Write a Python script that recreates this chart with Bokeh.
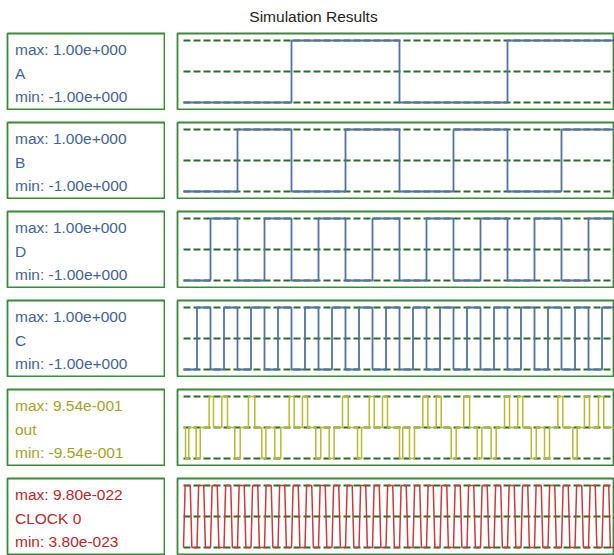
from bokeh.plotting import figure
from bokeh.layouts import column, row
from bokeh.models import Range1d, Label
from bokeh.embed import file_html
from bokeh.resources import INLINE

# ---------------- data ----------------
title_text = "Simulation Results"

signal_names = ["A", "B", "D", "C", "out", "CLOCK 0"]
signal_max = [1.00, 1.00, 1.00, 1.00, 0.954, 9.80e-22]
signal_min = [-1.00, -1.00, -1.00, -1.00, -0.954, 3.80e-23]

# counter bits: edge times (time units) and level held after each edge
A_t = [0, 8, 16, 24, 32]
A_v = [-1, 1, -1, 1, -1]
B_t = [0, 4, 8, 12, 16, 20, 24, 28, 32]
B_v = [-1, 1, -1, 1, -1, 1, -1, 1, -1]
D_t = [0, 2, 4, 6, 8, 10, 12, 14, 16, 18, 20, 22, 24, 26, 28, 30, 32]
D_v = [-1, 1, -1, 1, -1, 1, -1, 1, -1, 1, -1, 1, -1, 1, -1, 1, -1]
C_t = [0, 1, 2, 3, 4, 5, 6, 7, 8, 9, 10, 11, 12, 13, 14, 15, 16,
       17, 18, 19, 20, 21, 22, 23, 24, 25, 26, 27, 28, 29, 30, 31, 32]
C_v = [-1, 1, -1, 1, -1, 1, -1, 1, -1, 1, -1, 1, -1, 1, -1, 1, -1,
       1, -1, 1, -1, 1, -1, 1, -1, 1, -1, 1, -1, 1, -1, 1, -1]

# "out": short pulses from 0 V (start time, end time, level in V)
out_start = [0.15, 0.94, 1.90, 2.84, 3.80, 4.81, 5.80, 6.76,
             7.83, 8.81, 9.80, 10.79, 11.78, 12.89, 13.76, 14.74,
             16.00, 16.74, 17.73, 18.72, 19.83, 20.76, 21.76, 22.79,
             23.78, 24.76, 25.76, 26.74, 27.73, 28.84, 29.70, 30.74]
out_end = [0.39, 1.24, 2.22, 3.26, 4.20, 5.28, 6.10, 7.21,
           8.20, 9.19, 10.17, 11.16, 12.20, 13.19, 14.13, 15.11,
           16.24, 17.11, 18.10, 19.09, 20.20, 21.19, 22.10, 23.16,
           24.15, 25.13, 26.13, 27.11, 28.10, 29.16, 30.07, 31.13]
out_level = [-0.954, -0.954, 0.954, 0.954, -0.954, 0.954, -0.954, -0.954,
             0.954, 0.954, -0.954, -0.954, 0.954, -0.954, 0.954, 0.954,
             -0.954, -0.954, 0.954, 0.954, -0.954, 0.954, -0.954, -0.954,
             0.954, 0.954, -0.954, -0.954, 0.954, -0.954, 0.954, 0.954]
out_end_time = 32

# clock: rising and falling edge times, edge duration
clk_rise = [0, 1, 2, 3, 4, 5, 6, 7, 8, 9, 10, 11, 12, 13, 14, 15,
            16, 17, 18, 19, 20, 21, 22, 23, 24, 25, 26, 27, 28, 29, 30, 31]
clk_fall = [0.5, 1.5, 2.5, 3.5, 4.5, 5.5, 6.5, 7.5, 8.5, 9.5, 10.5, 11.5,
            12.5, 13.5, 14.5, 15.5, 16.5, 17.5, 18.5, 19.5, 20.5, 21.5,
            22.5, 23.5, 24.5, 25.5, 26.5, 27.5, 28.5, 29.5, 30.5, 31.5]
clk_edge = 0.12
clk_low = 3.80e-23
clk_high = 9.80e-22

ref_levels = [1, 0, -1]

# ---------------- style ----------------
FONT = "Liberation Sans"
BORDER = "#3b883b"
DASH = "#2b6b2b"
line_colors = ["#5072a0", "#5072a0", "#5072a0", "#5072a0", "#b8b832", "#c9393b"]
text_colors = ["#44638f", "#44638f", "#44638f", "#44638f", "#a3a32b", "#b02a2e"]

LEFT_W, RIGHT_W, ROW_H = 165, 438, 78
LEFT_PAD = 7
GAP = 11
TITLE_H = 32
PX_PER_T = 13.5
T0_PAD = 6      # px from outline to t=0
Y_PAD = 7       # px from outline to signal max/min


def fmt(v):
    m, e = ("%.2e" % v).split("e")
    e = int(e)
    return "%se%s%03d" % (m, "+" if e >= 0 else "-", abs(e))


def norm(vals, vmin, vmax):
    mid = (vmax + vmin) / 2.0
    half = (vmax - vmin) / 2.0
    return [(v - mid) / half for v in vals]


def boxed_fig(w, h, xr, yr):
    p = figure(width=w, height=h, x_range=xr, y_range=yr,
               output_backend="svg", toolbar_location=None,
               x_axis_location=None, y_axis_location=None,
               min_border=1, tools="")
    p.grid.visible = False
    p.outline_line_color = BORDER
    p.outline_line_width = 1.8
    p.background_fill_color = "white"
    p.border_fill_color = "white"
    return p


frame_h = ROW_H - 2
lframe_w = LEFT_W - LEFT_PAD - 1
rframe_w = RIGHT_W - 1
x0 = -T0_PAD / PX_PER_T
x1 = (rframe_w - T0_PAD) / PX_PER_T
ypad = Y_PAD * 2.0 / (frame_h - 2 * Y_PAD)

rows = []
for i, name in enumerate(signal_names):
    vmax, vmin = signal_max[i], signal_min[i]
    # left label box
    lp = boxed_fig(LEFT_W, ROW_H, Range1d(0, lframe_w), Range1d(frame_h, 0))
    lp.min_border_left = LEFT_PAD
    for txt, yy in (("max: " + fmt(vmax), 16), (name, 40), ("min: " + fmt(vmin), 63)):
        lp.add_layout(Label(x=7.5, y=yy, text=txt, text_font=FONT,
                            text_font_size="15.5px", text_color=text_colors[i],
                            text_baseline="middle", text_align="left"))

    # waveform box
    rp = boxed_fig(RIGHT_W, ROW_H, Range1d(x0, x1), Range1d(-1 - ypad, 1 + ypad))
    rp.min_border_right = 0

    if name == "out":
        xs, ys = [0], [0.0]
        for s, e, l in zip(out_start, out_end, out_level):
            xs += [s, s, e, e]
            ys += [0.0, l, l, 0.0]
        xs.append(out_end_time)
        ys.append(0.0)
        ys = norm(ys, vmin, vmax)
    elif name == "CLOCK 0":
        xs, ys = [], []
        for r, f in zip(clk_rise, clk_fall):
            xs += [r, r + clk_edge, f, f + clk_edge]
            ys += [clk_low, clk_high, clk_high, clk_low]
        xs.append(clk_rise[-1] + 1)
        ys.append(clk_low)
        ys = norm(ys, vmin, vmax)
    else:
        t, v = {"A": (A_t, A_v), "B": (B_t, B_v), "D": (D_t, D_v), "C": (C_t, C_v)}[name]
        xs, ys = t, v

    n = len(ref_levels)
    rp.segment(x0=[xs[0]] * n, x1=[xs[-1]] * n, y0=ref_levels, y1=ref_levels,
               line_color=DASH, line_width=1.8, line_dash="7 3")
    if name in ("A", "B", "D", "C"):
        rp.step(x=xs, y=ys, mode="after", line_color=line_colors[i], line_width=1.8)
    else:
        rp.line(x=xs, y=ys, line_color=line_colors[i], line_width=1.5)

    rows.append(row(lp, rp, spacing=GAP))

total_w = LEFT_W + GAP + RIGHT_W
tp = figure(width=total_w, height=TITLE_H, x_range=Range1d(0, total_w),
            y_range=Range1d(TITLE_H, 0), output_backend="svg", toolbar_location=None,
            x_axis_location=None, y_axis_location=None, min_border=0, tools="")
tp.grid.visible = False
tp.outline_line_color = None
tp.add_layout(Label(x=313, y=16, text=title_text, text_font=FONT,
                    text_font_size="15.5px", text_color="#222222",
                    text_align="center", text_baseline="middle"))

layout = column(tp, column(*rows, spacing=GAP), spacing=0)

open("out.html", "w").write(file_html(layout, INLINE))
